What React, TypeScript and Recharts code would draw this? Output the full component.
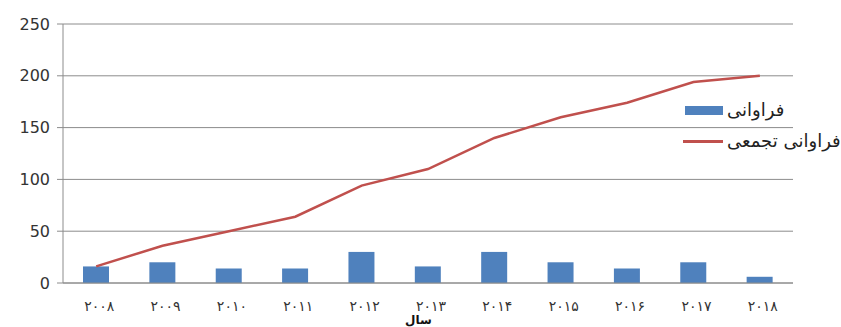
import React from "react";
import {
  ComposedChart,
  Bar,
  Line,
  XAxis,
  YAxis,
  CartesianGrid,
} from "recharts";

// سال‌ها با ارقام فارسی
const years = ["۲۰۰۸", "۲۰۰۹", "۲۰۱۰", "۲۰۱۱", "۲۰۱۲", "۲۰۱۳", "۲۰۱۴", "۲۰۱۵", "۲۰۱۶", "۲۰۱۷", "۲۰۱۸"];
const frequency = [16, 20, 14, 14, 30, 16, 30, 20, 14, 20, 6];
const cumulative = [16, 36, 50, 64, 94, 110, 140, 160, 174, 194, 200];
const yTicks = [0, 50, 100, 150, 200, 250];

const BAR_COLOR = "#4F81BD";
const LINE_COLOR = "#C0504D";
const GRID = "#8c8c8c";

const data = years.map((y, i) => ({
  year: y,
  freq: frequency[i],
  cum: cumulative[i],
}));

if (typeof document !== "undefined") document.body.style.margin = "0";

function XTick(props: any) {
  const { x, y, payload } = props;
  return (
    <text
      x={x + 3}
      y={y + 20}
      textAnchor="middle"
      fill="#333"
      fontSize={14}
      fontFamily="DejaVu Sans"
      letterSpacing={5}
    >
      {payload.value}
    </text>
  );
}

function LegendBox() {
  const row = { display: "flex", alignItems: "center", height: 22 } as const;
  const txt = { fontFamily: "DejaVu Sans", fontSize: 18, color: "#222", marginLeft: 4 };
  return (
    <div style={{ position: "absolute", left: 683, top: 99, width: 160, lineHeight: 1 }}>
      <div style={row}>
        <div style={{ width: 38, height: 9, background: BAR_COLOR, marginLeft: 2 }} />
        <span style={txt}>فراوانی</span>
      </div>
      <div style={{ ...row, marginTop: 9 }}>
        <div style={{ width: 40, height: 3, background: LINE_COLOR }} />
        <span style={txt}>فراوانی تجمعی</span>
      </div>
    </div>
  );
}

export default function App() {
  return (
    <div style={{ position: "relative", width: 841, height: 327, background: "#fff", overflow: "hidden" }}>
      <ComposedChart
        width={841}
        height={327}
        data={data}
        margin={{ top: 24, right: 48, bottom: 0, left: 0 }}
      >
        <CartesianGrid vertical={false} stroke={GRID} strokeWidth={1} />
        <XAxis
          dataKey="year"
          height={44}
          stroke={GRID}
          tickLine={false}
          tick={<XTick />}
          interval={0}
        />
        <YAxis
          width={63}
          domain={[0, 250]}
          ticks={yTicks}
          stroke={GRID}
          tickSize={6}
          tickMargin={7}
          tick={{ fill: "#333", fontSize: 16, fontFamily: "DejaVu Sans" }}
        />
        <Bar dataKey="freq" fill={BAR_COLOR} barSize={26} isAnimationActive={false} />
        <Line
          type="linear"
          dataKey="cum"
          stroke={LINE_COLOR}
          strokeWidth={2.5}
          dot={false}
          isAnimationActive={false}
        />
      </ComposedChart>
      <LegendBox />
      <div
        style={{
          position: "absolute",
          left: 405,
          top: 313,
          fontFamily: "DejaVu Sans",
          fontWeight: "bold",
          fontSize: 12,
          color: "#111",
        }}
      >
        سال
      </div>
    </div>
  );
}
